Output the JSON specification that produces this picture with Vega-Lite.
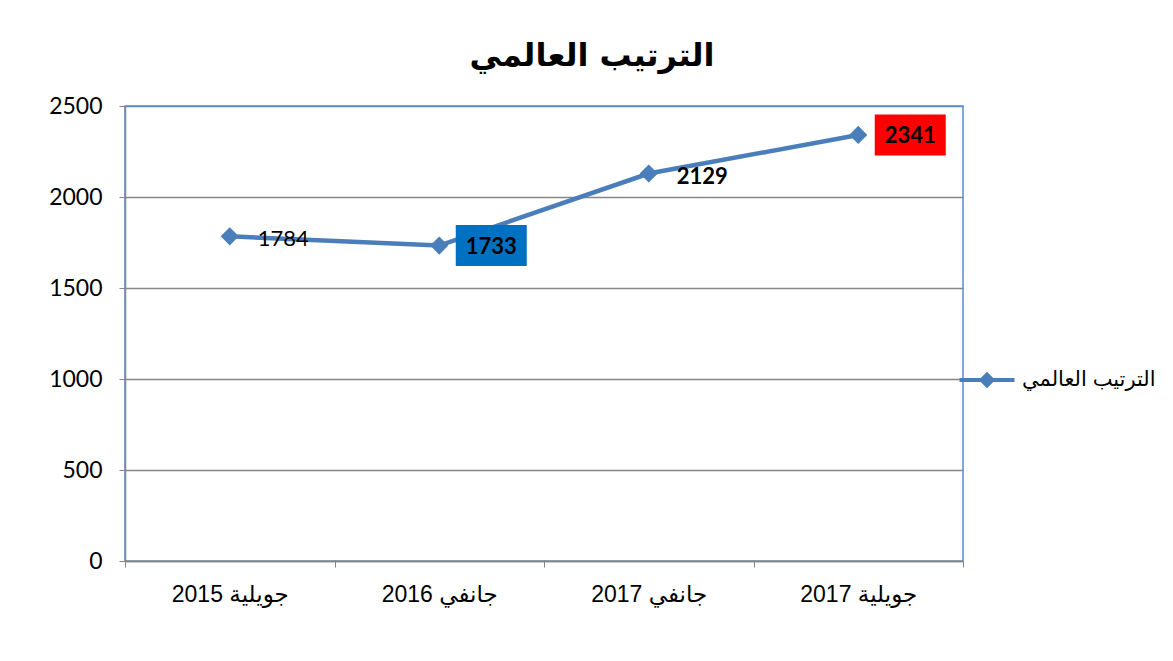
{
  "$schema": "https://vega.github.io/schema/vega-lite/v6.json",
  "width": 838,
  "height": 455,
  "autosize": {"type": "none"},
  "padding": {"left": 125, "top": 106, "right": 210, "bottom": 100},
  "background": "white",
  "config": {
    "view": {"stroke": "#5b8bc9", "strokeWidth": 1.5},
    "font": "Liberation Sans, DejaVu Sans"
  },
  "title": {
    "text": "الترتيب العالمي",
    "font": "DejaVu Sans",
    "fontSize": 32,
    "fontWeight": "bold",
    "color": "black",
    "anchor": "middle",
    "dx": 48,
    "offset": 22
  },
  "data": {
    "values": [
      {"period": "جويلية 2015", "rank": 1784},
      {"period": "جانفي 2016", "rank": 1733},
      {"period": "جانفي 2017", "rank": 2129},
      {"period": "جويلية 2017", "rank": 2341}
    ]
  },
  "encoding": {
    "x": {
      "field": "period",
      "type": "ordinal",
      "sort": null,
      "scale": {"type": "band", "paddingInner": 0, "paddingOuter": 0},
      "axis": {
        "title": null,
        "labelAngle": 0,
        "tickBand": "extent",
        "domainColor": "#868686",
        "domainWidth": 1.5,
        "tickColor": "#868686",
        "tickSize": 6,
        "labelFontSize": 23,
        "labelColor": "black",
        "labelPadding": 16,
        "labelFont": "Liberation Sans, DejaVu Sans"
      }
    },
    "y": {
      "field": "rank",
      "type": "quantitative",
      "scale": {"domain": [0, 2500], "nice": false},
      "axis": {
        "title": null,
        "values": [0, 500, 1000, 1500, 2000, 2500],
        "format": "d",
        "grid": true,
        "gridColor": {"condition": {"test": "datum.value == 2500", "value": "#5b8bc9"}, "value": "#868686"},
        "gridWidth": 1.5,
        "domainColor": "#868686",
        "domainWidth": 1.5,
        "tickColor": "#868686",
        "tickSize": 6,
        "labelFontSize": 23,
        "labelColor": "black",
        "labelPadding": 17,
        "labelFont": "Lato"
      }
    }
  },
  "layer": [
    {
      "mark": {"type": "line", "color": "#4a7ebb", "strokeWidth": 4.5}
    },
    {
      "mark": {"type": "point", "shape": "diamond", "filled": true, "size": 330, "opacity": 1},
      "encoding": {
        "color": {
          "datum": "الترتيب العالمي",
          "scale": {"range": ["#4a7ebb"]},
          "legend": {
            "title": null,
            "orient": "none",
            "legendX": 848,
            "legendY": 260,
            "padding": 0,
            "symbolType": "M-2,-0.15L2,-0.15L2,0.15L-2,0.15Z M-0.6,0L0,-0.6L0.6,0L0,0.6Z",
            "symbolSize": 756,
            "symbolStrokeWidth": 0,
            "symbolOpacity": 1,
            "labelOffset": 21,
            "labelFontSize": 21,
            "labelColor": "black",
            "labelFont": "Liberation Sans, DejaVu Sans"
          }
        }
      }
    },
    {
      "transform": [{"filter": "datum.rank == 1784"}],
      "mark": {"type": "text", "align": "left", "baseline": "middle", "dx": 28, "dy": 3, "font": "Lato", "fontSize": 22, "color": "black"},
      "encoding": {"text": {"field": "rank", "type": "quantitative", "format": "d"}}
    },
    {
      "transform": [{"filter": "datum.rank == 2129"}],
      "mark": {"type": "text", "align": "left", "baseline": "middle", "dx": 28, "dy": 3, "font": "Lato", "fontSize": 22, "fontWeight": "bold", "color": "black"},
      "encoding": {"text": {"field": "rank", "type": "quantitative", "format": "d"}}
    },
    {
      "transform": [{"filter": "datum.rank == 1733"}],
      "mark": {"type": "point", "shape": "M-1,-0.577L1,-0.577L1,0.577L-1,0.577Z", "size": 5041, "filled": true, "color": "#0070c0", "opacity": 1, "strokeWidth": 0, "xOffset": 52, "yOffset": 0}
    },
    {
      "transform": [{"filter": "datum.rank == 1733"}],
      "mark": {"type": "text", "align": "center", "baseline": "middle", "dx": 52, "dy": 1, "font": "Lato", "fontSize": 22, "fontWeight": "bold", "color": "black"},
      "encoding": {"text": {"field": "rank", "type": "quantitative", "format": "d"}}
    },
    {
      "transform": [{"filter": "datum.rank == 2341"}],
      "mark": {"type": "point", "shape": "M-1,-0.577L1,-0.577L1,0.577L-1,0.577Z", "size": 5041, "filled": true, "color": "#ff0000", "opacity": 1, "strokeWidth": 0, "xOffset": 52, "yOffset": 0}
    },
    {
      "transform": [{"filter": "datum.rank == 2341"}],
      "mark": {"type": "text", "align": "center", "baseline": "middle", "dx": 52, "dy": 1, "font": "Lato", "fontSize": 22, "fontWeight": "bold", "color": "black"},
      "encoding": {"text": {"field": "rank", "type": "quantitative", "format": "d"}}
    }
  ]
}
